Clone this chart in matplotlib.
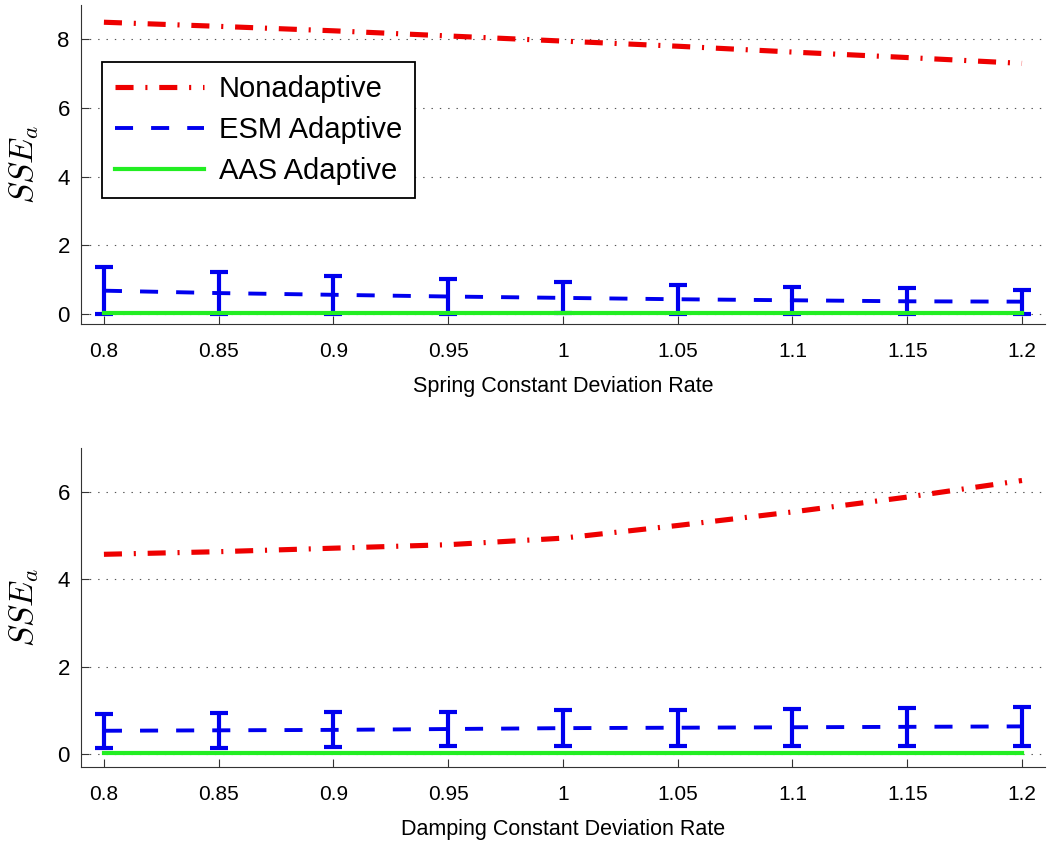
import matplotlib
matplotlib.use("Agg")
import matplotlib.pyplot as plt

plt.rcParams['mathtext.fontset'] = 'cm'
plt.rcParams['lines.scale_dashes'] = False

rate = [0.8, 0.85, 0.9, 0.95, 1.0, 1.05, 1.1, 1.15, 1.2]
tick_labels = ['0.8', '0.85', '0.9', '0.95', '1', '1.05', '1.1', '1.15', '1.2']

# spring constant
spring_non = [8.50, 8.38, 8.25, 8.10, 7.95, 7.80, 7.63, 7.47, 7.30]
spring_esm = [0.67, 0.60, 0.55, 0.50, 0.46, 0.42, 0.39, 0.36, 0.35]
spring_esm_std = [0.68, 0.61, 0.55, 0.50, 0.45, 0.42, 0.40, 0.38, 0.35]
spring_aas = [0.01, 0.01, 0.01, 0.01, 0.01, 0.01, 0.01, 0.01, 0.01]

# damping constant
damp_non = [4.57, 4.63, 4.71, 4.79, 4.94, 5.23, 5.54, 5.88, 6.26]
damp_esm = [0.53, 0.54, 0.55, 0.57, 0.59, 0.60, 0.61, 0.62, 0.63]
damp_esm_std = [0.39, 0.40, 0.40, 0.40, 0.41, 0.41, 0.42, 0.43, 0.44]
damp_aas = [0.01, 0.01, 0.01, 0.01, 0.01, 0.01, 0.01, 0.01, 0.01]

fam = ['Liberation Sans', 'DejaVu Sans']

fig = plt.figure(figsize=(10.57, 8.48), dpi=100)
ax1 = fig.add_axes([0.0766, 0.618, 0.912, 0.376])
ax2 = fig.add_axes([0.0766, 0.0955, 0.912, 0.376])


def draw(ax, non, esm, esm_std, aas, ylim, yticks, xlabel):
    ax.plot(rate, esm, color='#0000ee', lw=2.8, dashes=(13, 13), label='ESM Adaptive')
    ax.errorbar(rate, esm, yerr=esm_std, fmt='none', ecolor='#0000ee',
                elinewidth=3, capsize=6.5, capthick=3)
    ax.plot(rate, aas, color='#22ee22', lw=3, label='AAS Adaptive')
    ax.plot(rate, non, color='#ee0000', lw=3.7, dashes=(13, 8.5, 1.5, 8.5), label='Nonadaptive')
    ax.set_xlim(0.79, 1.21)
    ax.set_ylim(*ylim)
    ax.set_xticks(rate)
    ax.set_xticklabels(tick_labels, family=fam, fontsize=15)
    ax.set_yticks(yticks)
    ax.set_yticklabels([str(v) for v in yticks], family=fam, fontsize=16)
    ax.tick_params(axis='x', direction='in', length=6, pad=13, colors='#333333')
    ax.tick_params(axis='y', direction='in', length=6, pad=8, colors='#333333')
    for lbl in ax.get_xticklabels() + ax.get_yticklabels():
        lbl.set_color('black')
    ax.grid(axis='y', linestyle=(0, (1, 5)), color='#555555', lw=0.8)
    ax.spines['top'].set_visible(False)
    ax.spines['right'].set_visible(False)
    ax.spines['left'].set_color('#333333')
    ax.spines['bottom'].set_color('#333333')
    ax.set_xlabel(xlabel, family=fam, fontsize=15.5, labelpad=11)
    ax.set_ylabel('$SSE_a$', fontsize=24)
    ax.yaxis.set_label_coords(-0.041, 0.5)


draw(ax1, spring_non, spring_esm, spring_esm_std, spring_aas, (-0.3, 9), [0, 2, 4, 6, 8],
     'Spring Constant Deviation Rate')
draw(ax2, damp_non, damp_esm, damp_esm_std, damp_aas, (-0.3, 7), [0, 2, 4, 6],
     'Damping Constant Deviation Rate')

h, l = ax1.get_legend_handles_labels()
order = [2, 0, 1]
leg = ax1.legend([h[i] for i in order], [l[i] for i in order], loc='upper left',
                 bbox_to_anchor=(0.022, 0.822), borderaxespad=0, fancybox=False,
                 framealpha=1, edgecolor='black', handlelength=3.05,
                 prop={'family': fam, 'size': 21}, labelspacing=0.45,
                 borderpad=0.45, handletextpad=0.5)
leg.get_frame().set_linewidth(1.3)

fig.savefig('out.png', dpi=100)
